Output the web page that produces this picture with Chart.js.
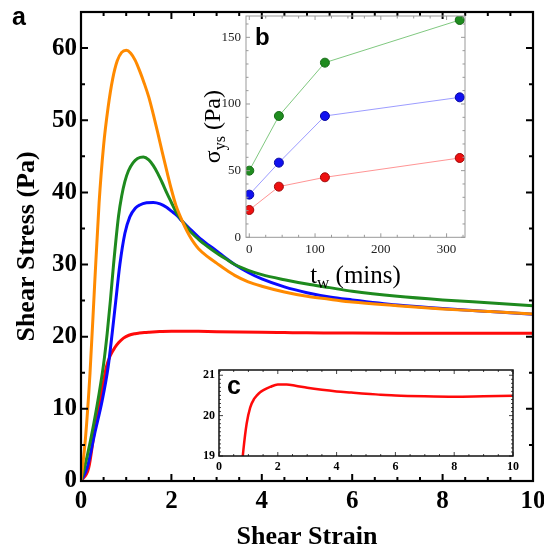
<!DOCTYPE html>
<html><head><meta charset="utf-8">
<script src="https://cdn.jsdelivr.net/npm/chart.js@4/dist/chart.umd.min.js"></script>
<style>
html,body{margin:0;padding:0;background:#fff;}
#wrap{position:relative;width:544px;height:551px;overflow:hidden;background:#fff;}
canvas{position:absolute;}
#cMain{left:0;top:0;}
#cB{left:195px;top:0;}
#cC{left:190px;top:355px;}
</style></head><body>
<div id="wrap">
<canvas id="cMain" width="544" height="551"></canvas>
<canvas id="cB" width="280" height="300"></canvas>
<canvas id="cC" width="340" height="140"></canvas>
</div>
<script>
// ---------- Panel a: stress vs strain ----------
const orangeStrain = [0,0.1,0.2,0.3,0.4,0.5,0.6,0.7,0.8,0.9,1.0,1.1,1.2,1.3,1.4,1.5,1.6,1.7,1.8,1.9,2.0,2.1,2.2,2.3,2.4,2.5,2.6,2.8,3.0,3.2,3.4,3.7,4.0,4.5,5.0,5.5,6.0,7.0,8.0,9.0,10];
const orangeStress = [0,6,15,27,38.5,46.5,51.8,55.7,58.2,59.4,59.7,59.3,58.3,56.8,55.1,53.2,50.8,48.2,45.5,42.9,40.4,38.2,36.6,35.2,34.0,33.0,32.2,31.1,30.2,29.3,28.5,27.6,27.0,26.2,25.6,25.2,24.8,24.3,23.85,23.5,23.15];

const greenStrain = [0,0.08,0.21,0.34,0.5,0.58,0.65,0.72,0.83,0.9,0.97,1.05,1.15,1.25,1.38,1.5,1.6,1.7,1.8,1.9,2.0,2.1,2.24,2.4,2.6,2.8,3.0,3.2,3.4,3.7,4.0,4.5,5.0,5.5,6.0,7.0,8.0,9.0,10];
const greenStress = [0,1.9,5.6,9.9,16.2,20.5,25,30,36.7,39.5,41.5,43.0,44.1,44.7,44.9,44.5,43.7,42.6,41.3,39.9,38.6,37.3,36.0,34.7,33.5,32.5,31.6,30.8,30.0,29.2,28.6,27.9,27.3,26.8,26.3,25.6,25.1,24.7,24.3];

const blueStrain = [0,0.14,0.3,0.47,0.6,0.69,0.77,0.86,0.97,1.08,1.2,1.3,1.45,1.6,1.75,1.9,2.0,2.12,2.24,2.4,2.6,2.8,3.0,3.2,3.4,3.7,4.0,4.5,5.0,5.5,6.0,7.0,8.0,9.0,10];
const blueStress = [0,1.9,6.5,11.2,15.8,20.5,25,30,34.3,36.6,37.8,38.25,38.55,38.6,38.4,37.9,37.4,36.8,36.0,35.0,33.8,32.8,31.9,30.9,30.0,28.9,28.0,26.9,26.1,25.5,25.1,24.4,23.9,23.5,23.1];

const redStrain = [0,0.17,0.29,0.38,0.49,0.56,0.65,0.75,0.83,0.94,1.06,1.2,1.29,1.4,1.51,1.74,2.0,2.3,2.6,3.0,3.5,4.0,4.5,5.0,5.5,6.0,7.0,8.0,9.0,10];
const redStress = [0,1.8,6.6,9.9,13.5,15.8,17.4,18.5,19.15,19.8,20.2,20.42,20.5,20.58,20.63,20.71,20.77,20.77,20.74,20.69,20.64,20.6,20.57,20.54,20.52,20.5,20.48,20.47,20.48,20.49];

const mainXTicks = [0,2,4,6,8,10];
const mainYTicks = [0,10,20,30,40,50,60];

// ---------- Panel b: yield stress vs waiting time ----------
const waitTimes = [0,45,115,320];
const ysGreen = [50,91,131,163];
const ysBlue = [32,56,91,105];
const ysRed = [20.5,38,45,59.5];
const bXTicks = [0,100,200,300];
const bYTicks = [0,50,100,150];

// ---------- Panel c: zoom of red curve ----------
const cXTicks = [0,2,4,6,8,10];
const cYTicks = [19,20,21];

const pts = (xs, ys) => xs.map((v, i) => ({x: v, y: ys[i]}));
const setTicks = arr => (s => { s.ticks = arr.map(v => ({value: v})); });

Chart.defaults.font.family = '"Liberation Serif", "Times New Roman", serif';
Chart.defaults.color = '#000';

function boxPlugin(cfg) {
  return {
    id: 'box' + cfg.name,
    afterDatasetsDraw(chart) {
      const {ctx, chartArea: a, scales: {x, y}} = chart;
      const near = (v, s) => Math.abs(v / s - Math.round(v / s)) < 1e-6;
      ctx.save();
      ctx.strokeStyle = cfg.tickColor; ctx.lineWidth = cfg.tickWidth;
      ctx.beginPath();
      const nx = Math.round((cfg.xTo - cfg.xFrom) / cfg.xMinor);
      for (let i = 0; i <= nx; i++) {
        const v = cfg.xFrom + i * cfg.xMinor;
        const p = x.getPixelForValue(v);
        if (p < a.left - 0.5 || p > a.right + 0.5) continue;
        const L = near(v, cfg.xMajor) ? cfg.major : cfg.minor;
        ctx.moveTo(p, a.bottom); ctx.lineTo(p, a.bottom - L);
        if (cfg.topTicks) { ctx.moveTo(p, a.top); ctx.lineTo(p, a.top + L); }
      }
      const ny = Math.round((cfg.yTo - cfg.yFrom) / cfg.yMinor);
      for (let i = 0; i <= ny; i++) {
        const v = cfg.yFrom + i * cfg.yMinor;
        const p = y.getPixelForValue(v);
        if (p < a.top - 0.5 || p > a.bottom + 0.5) continue;
        const L = near(v, cfg.yMajor) ? cfg.major : cfg.minor;
        ctx.moveTo(a.left, p); ctx.lineTo(a.left + L, p);
        if (cfg.rightTicks) { ctx.moveTo(a.right, p); ctx.lineTo(a.right - L, p); }
      }
      ctx.stroke();
      ctx.strokeStyle = cfg.frameColor; ctx.lineWidth = cfg.frameWidth;
      ctx.strokeRect(a.left, a.top, a.right - a.left, a.bottom - a.top);
      if (cfg.letter) {
        ctx.fillStyle = '#000';
        ctx.font = cfg.letter.font;
        ctx.textBaseline = 'alphabetic'; ctx.textAlign = 'left';
        ctx.fillText(cfg.letter.text, cfg.letter.x, cfg.letter.y);
      }
      ctx.restore();
    }
  };
}

function lineDs(xs, ys, color, w) {
  return {data: pts(xs, ys), borderColor: color, borderWidth: w, pointRadius: 0,
          cubicInterpolationMode: 'monotone', fill: false};
}

// ---------- Main chart ----------
new Chart(document.getElementById('cMain'), {
  type: 'line',
  data: {datasets: [
    lineDs(orangeStrain, orangeStress, '#ff8a00', 3),
    lineDs(greenStrain, greenStress, '#1e8a1e', 3),
    lineDs(blueStrain, blueStress, '#0a0aff', 3),
    lineDs(redStrain, redStress, '#ff0a0a', 3)
  ]},
  options: {
    responsive: false, animation: false, devicePixelRatio: 1,
    layout: {padding: {left: 0, top: 12, right: 11, bottom: 0}},
    plugins: {legend: {display: false}, tooltip: {enabled: false}},
    scales: {
      x: {type: 'linear', min: 0, max: 10,
        afterBuildTicks: setTicks(mainXTicks),
        afterFit: s => { s.height = 70; s.paddingLeft = 0; s.paddingRight = 0; },
        grid: {display: false, drawTicks: false}, border: {display: false},
        ticks: {padding: 6, autoSkip: false, maxRotation: 0, font: {size: 25, weight: 'bold'}, color: '#000'},
        title: {display: true, text: 'Shear Strain', font: {size: 26, weight: 'bold', lineHeight: 1}, padding: {top: 0, bottom: 1}, color: '#000'}
      },
      y: {type: 'linear', min: 0, max: 65,
        afterBuildTicks: setTicks(mainYTicks),
        afterFit: s => { s.width = 81; s.paddingTop = 0; s.paddingBottom = 0; },
        grid: {display: false, drawTicks: false}, border: {display: false},
        ticks: {padding: 4, autoSkip: false, font: {size: 25, weight: 'bold'}, color: '#000'},
        title: {display: true, text: 'Shear Stress (Pa)', font: {size: 26, weight: 'bold', lineHeight: 1}, padding: {top: 14, bottom: 0}, color: '#000'}
      }
    }
  },
  plugins: [boxPlugin({name: 'a', xFrom: 0, xTo: 10, xMinor: 0.5, xMajor: 2, yFrom: 0, yTo: 65, yMinor: 5, yMajor: 10,
    major: 7, minor: 4, tickColor: '#000', tickWidth: 2, frameColor: '#000', frameWidth: 2.2, topTicks: true, rightTicks: true,
    letter: {text: 'a', font: 'bold 25px "Liberation Sans", Arial, sans-serif', x: 12, y: 25}})]
});

// ---------- Inset b ----------
const bTitles = {
  id: 'bTitles',
  afterDraw(chart) {
    const {ctx, chartArea: a} = chart;
    const fam = '"Liberation Serif", serif';
    const parts1 = [{t: 'σ', s: 24, dy: 0}, {t: 'ys', s: 16, dy: 5}, {t: ' (Pa)', s: 24, dy: 0}];
    const parts2 = [{t: 't', s: 25, dy: 0}, {t: 'w', s: 17, dy: 5}, {t: ' (mins)', s: 25, dy: 0}];
    const measure = parts => parts.reduce((w, p) => { ctx.font = p.s + 'px ' + fam; p.w = ctx.measureText(p.t).width; return w + p.w; }, 0);
    const render = (parts, tx, ty, rot) => {
      const w = measure(parts);
      ctx.save(); ctx.translate(tx, ty); if (rot) ctx.rotate(-Math.PI / 2);
      ctx.fillStyle = '#000'; ctx.textBaseline = 'alphabetic'; ctx.textAlign = 'left';
      let x = -w / 2;
      parts.forEach(p => { ctx.font = p.s + 'px ' + fam; ctx.fillText(p.t, x, p.dy); x += p.w; });
      ctx.restore();
    };
    render(parts1, a.left - 26, (a.top + a.bottom) / 2, true);
    render(parts2, (a.left + a.right) / 2, a.bottom + 46, false);
  }
};

function scatterDs(ys, line, fillC, edge) {
  return {data: pts(waitTimes, ys), borderColor: line, borderWidth: 1, pointRadius: 4.5,
          pointBackgroundColor: fillC, pointBorderColor: edge, pointBorderWidth: 1, tension: 0, fill: false};
}

new Chart(document.getElementById('cB'), {
  type: 'line',
  data: {datasets: [
    scatterDs(ysGreen, 'rgba(60,170,60,0.65)', '#1f8c1f', '#176b17'),
    scatterDs(ysBlue, 'rgba(90,90,255,0.6)', '#1010f0', '#0808a0'),
    scatterDs(ysRed, 'rgba(255,90,90,0.65)', '#ee1010', '#a00808')
  ]},
  options: {
    responsive: false, animation: false, devicePixelRatio: 1,
    layout: {padding: {left: 0, top: 16, right: 10, bottom: 0}},
    plugins: {legend: {display: false}, tooltip: {enabled: false}},
    scales: {
      x: {type: 'linear', min: -5, max: 328,
        afterBuildTicks: setTicks(bXTicks),
        afterFit: s => { s.height = 62.7; s.paddingLeft = 0; s.paddingRight = 0; },
        grid: {display: false, drawTicks: false}, border: {display: false},
        ticks: {padding: 4, autoSkip: false, maxRotation: 0, font: {size: 13}, color: '#222'}
      },
      y: {type: 'linear', min: 0, max: 166,
        afterBuildTicks: setTicks(bYTicks),
        afterFit: s => { s.width = 51; s.paddingTop = 0; s.paddingBottom = 0; },
        grid: {display: false, drawTicks: false}, border: {display: false},
        ticks: {padding: 5, autoSkip: false, font: {size: 13}, color: '#222'}
      }
    }
  },
  plugins: [boxPlugin({name: 'b', xFrom: 0, xTo: 325, xMinor: 25, xMajor: 100, yFrom: 0, yTo: 165, yMinor: 10, yMajor: 50,
    major: 4, minor: 2.5, tickColor: '#999', tickWidth: 1, frameColor: '#999', frameWidth: 1, topTicks: true, rightTicks: true,
    letter: {text: 'b', font: 'bold 24px "Liberation Sans", Arial, sans-serif', x: 60, y: 45}}), bTitles]
});

// ---------- Inset c ----------
new Chart(document.getElementById('cC'), {
  type: 'line',
  data: {datasets: [lineDs(redStrain, redStress, '#ff0a0a', 2.5)]},
  options: {
    responsive: false, animation: false, devicePixelRatio: 1,
    layout: {padding: {left: 0, top: 15, right: 17, bottom: 0}},
    plugins: {legend: {display: false}, tooltip: {enabled: false}},
    scales: {
      x: {type: 'linear', min: 0, max: 10,
        afterBuildTicks: setTicks(cXTicks),
        afterFit: s => { s.height = 39; s.paddingLeft = 0; s.paddingRight = 0; },
        grid: {display: false, drawTicks: false}, border: {display: false},
        ticks: {padding: 4, autoSkip: false, maxRotation: 0, font: {size: 12, weight: 'bold'}, color: '#000'}
      },
      y: {type: 'linear', min: 19, max: 21.13,
        afterBuildTicks: setTicks(cYTicks),
        afterFit: s => { s.width = 29; s.paddingTop = 0; s.paddingBottom = 0; },
        grid: {display: false, drawTicks: false}, border: {display: false},
        ticks: {padding: 4, autoSkip: false, font: {size: 12, weight: 'bold'}, color: '#000'}
      }
    }
  },
  plugins: [boxPlugin({name: 'c', xFrom: 0, xTo: 10, xMinor: 0.5, xMajor: 2, yFrom: 19, yTo: 21.1, yMinor: 0.1, yMajor: 1,
    major: 4, minor: 2, tickColor: '#444', tickWidth: 1, frameColor: '#111', frameWidth: 1.5, topTicks: true, rightTicks: true,
    letter: {text: 'c', font: 'bold 25px "Liberation Sans", Arial, sans-serif', x: 37, y: 39}})]
});
</script>
</body></html>
